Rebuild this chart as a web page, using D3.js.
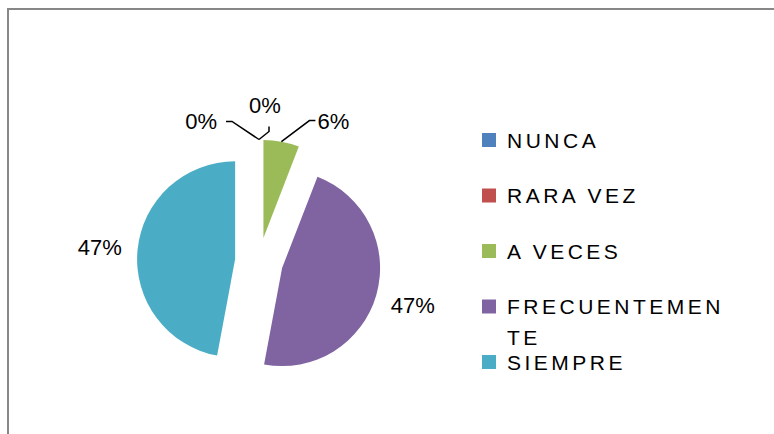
<!DOCTYPE html>
<html lang="es">
<head>
<meta charset="UTF-8">
<title>Pie</title>
<script src="https://cdn.jsdelivr.net/npm/d3@7"></script>
<style>
body { margin: 0; background: #fff; }
svg { display: block; font-family: "Liberation Sans", Arial, sans-serif; }
.lbl { font-size: 22px; fill: #000; }
.leg { font-size: 21px; letter-spacing: 3.5px; fill: #000; }
.leader { fill: none; stroke: #000; stroke-width: 1.5px; }
</style>
</head>
<body>
<svg width="774" height="434"></svg>
<script>
// data
var categories = ["NUNCA", "RARA VEZ", "A VECES", "FRECUENTEMENTE", "SIEMPRE"];
var values = [0, 0, 1, 8, 8];
var colors = ["#4F81BD", "#C0504D", "#9BBB59", "#8064A2", "#4BACC6"];

// layout
var cx = 259, cy = 261.5, r = 98, explode = 24, labelDist = 136;
// leader lines for the thin slices: elbow from start, end from elbow, label from end
var leaders = {
	0: { elbow: [-27, -18], end: [-6, 0], label: [-9, 0], anchor: "end" },
	1: { elbow: [10, -8], end: [0, -5], label: [-4, -21], anchor: "middle" },
	2: { elbow: [28, -21], end: [6, 0], label: [2, 0], anchor: "start" }
};

var svg = d3.select("svg");

svg.append("rect")
	.attr("x", 8).attr("y", 9)
	.attr("width", 900).attr("height", 600)
	.attr("fill", "#fff")
	.attr("stroke", "#878787")
	.attr("stroke-width", 2);

var total = d3.sum(values);
var fmt = d3.format(".0%");
var pie = d3.pie().sort(null).value(function(d) { return d; });
var arc = d3.arc().innerRadius(0).outerRadius(r);
var arcs = pie(values);

function dir(a) { return [Math.sin(a), -Math.cos(a)]; }

var g = svg.append("g").attr("transform", "translate(" + cx + "," + cy + ")");

arcs.forEach(function(d, i) {
	var mid = (d.startAngle + d.endAngle) / 2;
	var u = dir(mid);
	var ox = u[0] * explode, oy = u[1] * explode;
	g.append("path")
		.attr("transform", "translate(" + ox + "," + oy + ")")
		.attr("d", arc(d))
		.attr("fill", colors[i]);

	var txt = fmt(d.value / total);
	var L = leaders[i];
	if (L) {
		var sx = ox + u[0] * r, sy = oy + u[1] * r;
		var ex = sx + L.elbow[0], ey = sy + L.elbow[1];
		var fx = ex + L.end[0], fy = ey + L.end[1];
		g.append("path")
			.attr("class", "leader")
			.attr("d", d3.line()([[sx, sy], [ex, ey], [fx, fy]]));
		g.append("text")
			.attr("class", "lbl")
			.attr("x", fx + L.label[0])
			.attr("y", fy + L.label[1])
			.attr("dy", "0.36em")
			.attr("text-anchor", L.anchor)
			.text(txt);
	} else {
		g.append("text")
			.attr("class", "lbl")
			.attr("x", ox + u[0] * labelDist)
			.attr("y", oy + u[1] * labelDist)
			.attr("dy", "0.36em")
			.attr("text-anchor", "middle")
			.text(txt);
	}
});

// legend
var legX = 482, legY = 140, legStep = 55.5, legMaxW = 225, lineH = 31;
var leg = svg.append("g");
categories.forEach(function(c, i) {
	var y = legY + i * legStep;
	leg.append("rect")
		.attr("x", legX).attr("y", y - 7)
		.attr("width", 14).attr("height", 14)
		.attr("fill", colors[i]);
	var t = leg.append("text")
		.attr("class", "leg")
		.attr("x", legX + 25)
		.attr("y", y + 7.5);
	// wrap by characters when too wide
	var line = "", lines = [];
	var probe = t.append("tspan");
	c.split("").forEach(function(ch) {
		probe.text(line + ch);
		if (probe.node().getComputedTextLength() > legMaxW && line.length) {
			lines.push(line);
			line = ch;
		} else {
			line += ch;
		}
	});
	lines.push(line);
	probe.remove();
	lines.forEach(function(s, k) {
		t.append("tspan")
			.attr("x", legX + 25)
			.attr("dy", k ? lineH : 0)
			.text(s);
	});
});
</script>
</body>
</html>
